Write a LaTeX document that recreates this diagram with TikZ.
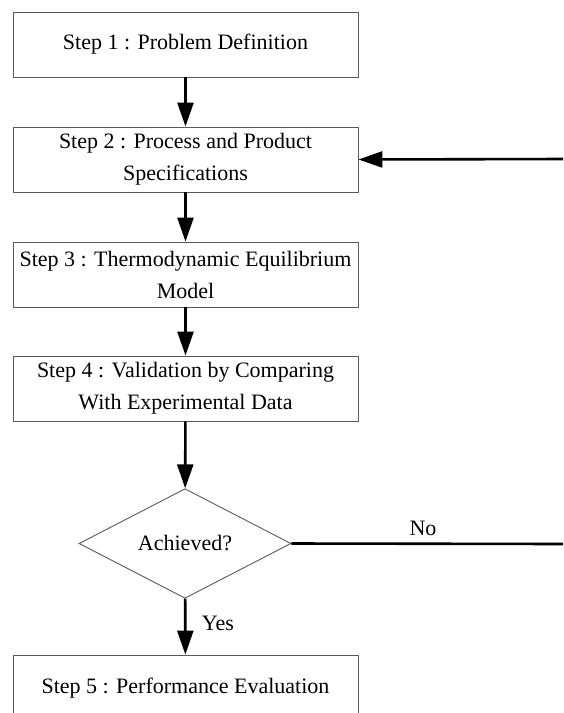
\documentclass[tikz,border=0pt]{standalone}
\usepackage{fontspec}
\setmainfont{Liberation Serif}
\usetikzlibrary{shapes.geometric,arrows.meta}
\begin{document}
\begin{tikzpicture}[x=1pt,y=-1pt,
  txt/.style={font=\rmfamily\fontsize{22}{32}\selectfont},
  stepbox/.style={txt,draw=black!65,line width=0.9pt,minimum width=345pt,minimum height=65pt,inner sep=0pt,align=center},
  decision/.style={txt,diamond,draw=black!65,line width=0.9pt,minimum width=212pt,minimum height=107pt,inner sep=0pt},
  flow/.style={line width=2.6pt,-{Triangle[length=24pt,width=16pt]}},
  plain/.style={line width=2.6pt},
  lbl/.style={txt,inner sep=0pt}]
\useasboundingbox (0,0) rectangle (563,713);
\clip (0,0) rectangle (563,713);
\node[stepbox] (s1) at (185.5,44.5) {Step 1 : Problem Definition};
\node[stepbox] (s2) at (185.5,159.5) {Step 2 : Process and Product\\Specifications};
\node[stepbox] (s3) at (185.5,274.5) {Step 3 : Thermodynamic Equilibrium\\Model};
\node[stepbox] (s4) at (185.5,388.5) {Step 4 : Validation by Comparing\\With Experimental Data};
\node[decision] (d) at (185,543.5) {Achieved?};
\node[stepbox] (s5) at (185.5,687.5) {};
\node[lbl] (s5t) at (185.5,688) {Step 5 : Performance Evaluation};
\coordinate (nr) at (565,544);
\coordinate (nl) at (565,159);
\draw[flow] (s1) -- (s2);
\draw[flow] (s2) -- (s3);
\draw[flow] (s3) -- (s4);
\draw[flow] (s4) -- (d);
\draw[flow] (d) -- (s5);
\draw[plain] (d.east) -- (nr);
\draw[flow] (nl) -- (s2.east);
\node[lbl] (no) at (423,528) {No};
\node[lbl] (yes) at (218,623) {Yes};
\end{tikzpicture}
\end{document}
